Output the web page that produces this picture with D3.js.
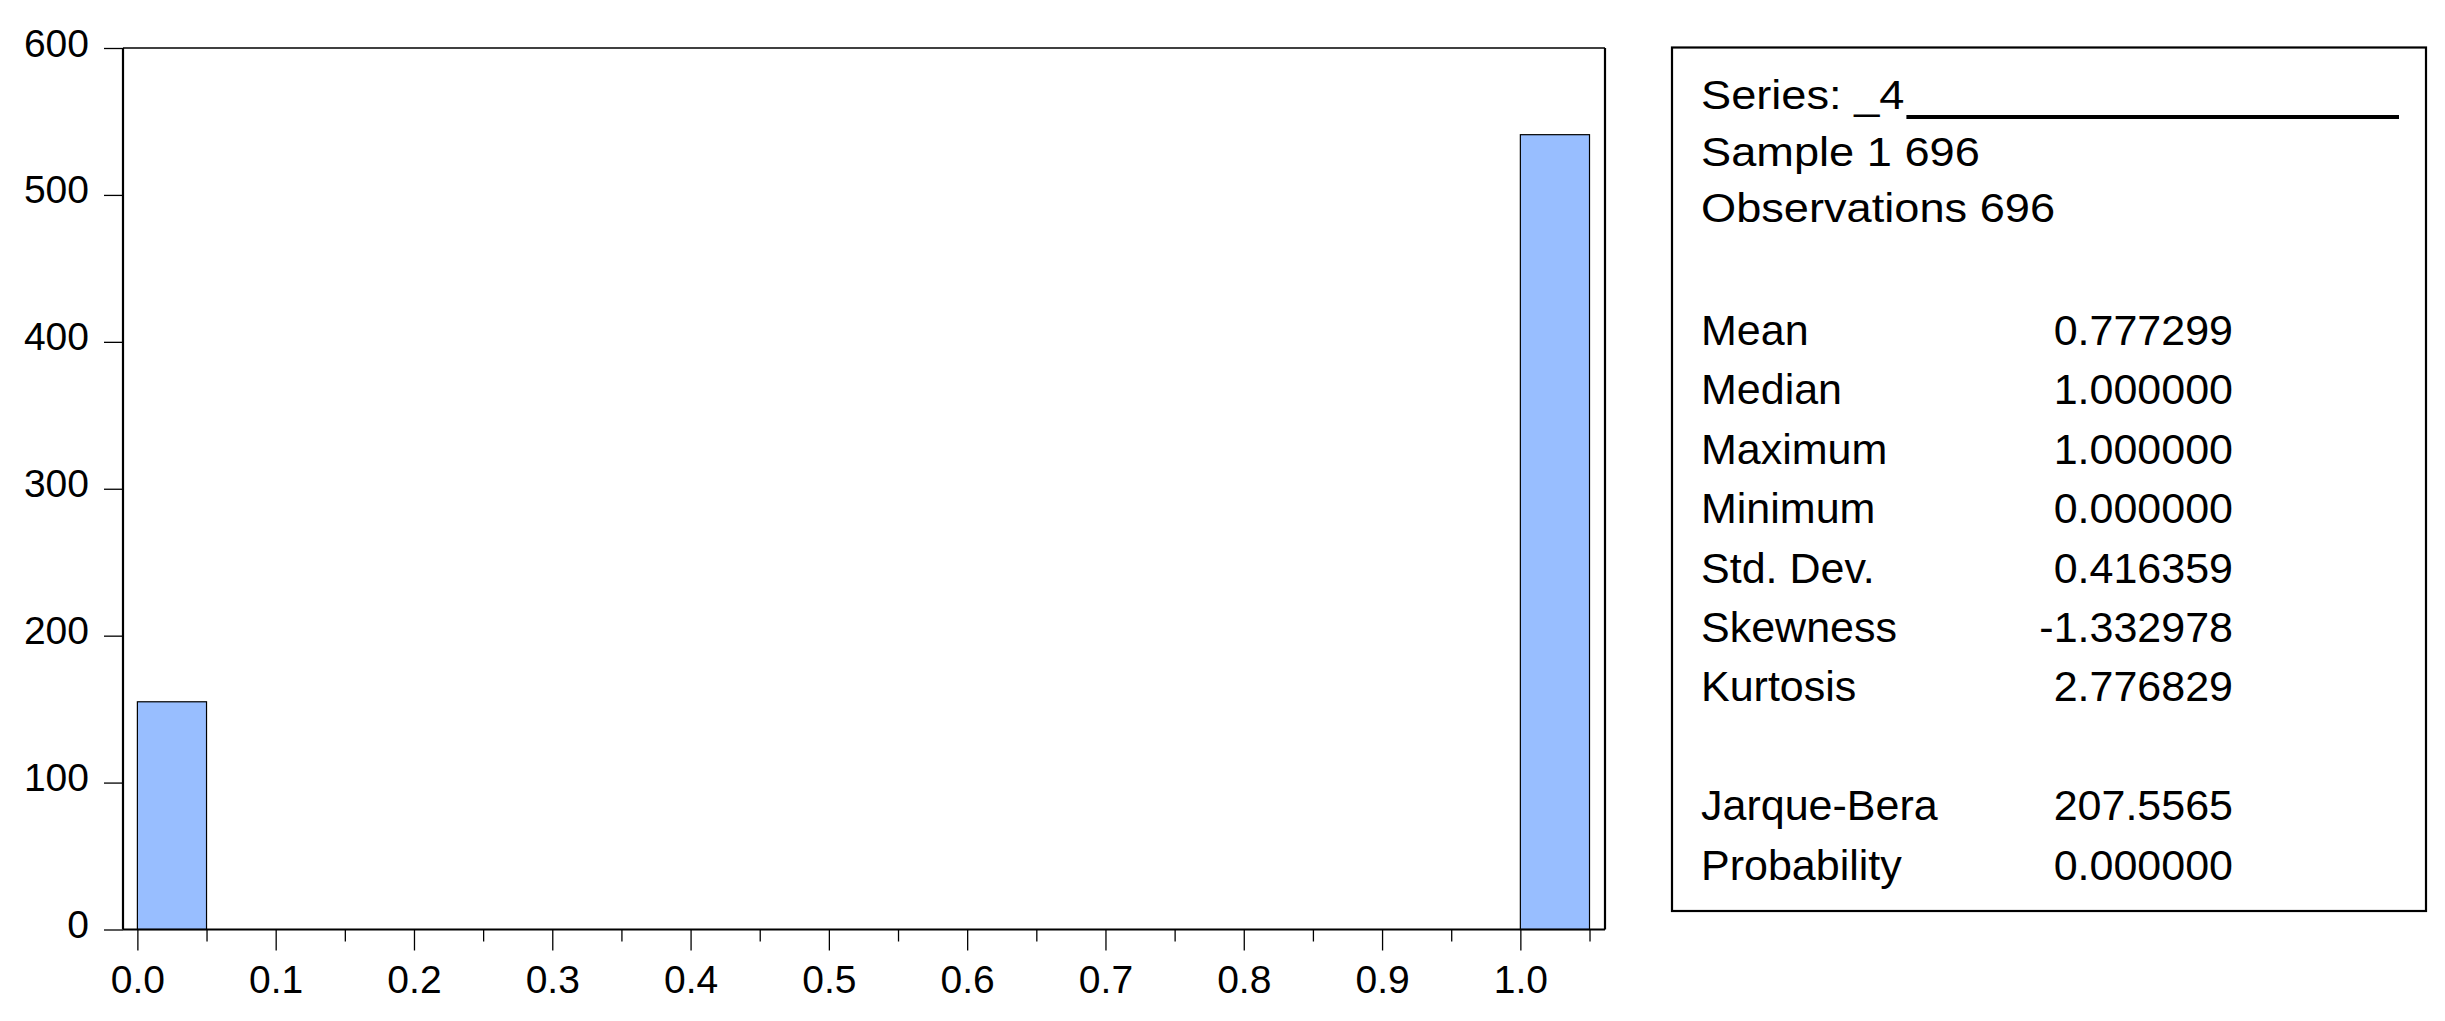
<!DOCTYPE html>
<html>
<head>
<meta charset="utf-8">
<script src="https://cdn.jsdelivr.net/npm/d3@7"></script>
<style>
  html, body { margin: 0; padding: 0; background: #fff; }
  svg { display: block; font-family: "Liberation Sans", Arial, sans-serif; }
</style>
</head>
<body>
<div id="chart"></div>
<script>
// histogram bins (lower / upper edge) and counts
const binLo = [0.0, 1.0]
const binHi = [0.05, 1.05]
const counts = [155, 541]

const yTicks = [0, 100, 200, 300, 400, 500, 600]
const xTicks = [0.0, 0.1, 0.2, 0.3, 0.4, 0.5, 0.6, 0.7, 0.8, 0.9, 1.0]
const xMinorTicks = [0.05, 0.15, 0.25, 0.35, 0.45, 0.55, 0.65, 0.75, 0.85, 0.95, 1.05]

// stats box
const headerLines = ['Sample 1 696', 'Observations 696']
const seriesName = 'Series: _4'
const statLabels = ['Mean', 'Median', 'Maximum', 'Minimum', 'Std. Dev.', 'Skewness', 'Kurtosis', '', 'Jarque-Bera', 'Probability']
const statValues = ['0.777299', '1.000000', '1.000000', '0.000000', '0.416359', '-1.332978', '2.776829', '', '207.5565', '0.000000']

const W = 2445, H = 1021
const plot = { left: 123, right: 1605, top: 48, bottom: 929.5 }

const svg = d3.select('#chart').append('svg')
    .attr('width', W)
    .attr('height', H)

const x = d3.scaleLinear()
    .domain([-0.0104, 1.0612])
    .range([plot.left, plot.right])

const y = d3.scaleLinear()
    .domain([0, 600])
    .range([plot.bottom, plot.top])

// bars
svg.selectAll('.bar')
    .data(counts)
    .enter()
    .append('rect')
    .attr('class', 'bar')
    .attr('x', (d, i) => x(binLo[i]))
    .attr('width', (d, i) => x(binHi[i]) - x(binLo[i]))
    .attr('y', d => y(d))
    .attr('height', d => y(0) - y(d))
    .style('fill', '#98BEFF')
    .style('stroke', '#000')
    .style('stroke-width', 1.2)

// y axis
const yAxis = svg.append('g')
    .attr('transform', `translate(${plot.left},0)`)
    .call(d3.axisLeft(y).tickValues(yTicks).tickSize(19).tickSizeOuter(0).tickPadding(15))
yAxis.select('.domain').remove()
yAxis.selectAll('line').attr('stroke', '#000').attr('stroke-width', 1.3)
yAxis.selectAll('text')
    .attr('dy', '8px')
    .style('font-size', '39px')
    .style('fill', '#000')
    .style('font-family', '"Liberation Sans", Arial, sans-serif')

// x axis, major + minor ticks
const xAxis = svg.append('g')
    .attr('transform', `translate(0,${plot.bottom})`)
    .call(d3.axisBottom(x).tickValues(xTicks).tickSize(21).tickSizeOuter(0).tickFormat(d3.format('.1f')))
xAxis.select('.domain').remove()
xAxis.selectAll('line').attr('stroke', '#000').attr('stroke-width', 1.3)
xAxis.selectAll('text')
    .attr('y', 63.5)
    .attr('dy', 0)
    .style('font-size', '39px')
    .style('fill', '#000')
    .style('font-family', '"Liberation Sans", Arial, sans-serif')

const xMinor = svg.append('g')
    .attr('transform', `translate(0,${plot.bottom})`)
    .call(d3.axisBottom(x).tickValues(xMinorTicks).tickSize(12).tickSizeOuter(0).tickFormat(''))
xMinor.select('.domain').remove()
xMinor.selectAll('line').attr('stroke', '#000').attr('stroke-width', 1.3)

// plot frame
svg.append('line')
    .attr('x1', plot.left).attr('x2', plot.right)
    .attr('y1', plot.top).attr('y2', plot.top)
    .style('stroke', '#000').style('stroke-width', 1.5)
svg.append('line')
    .attr('x1', plot.left).attr('x2', plot.right)
    .attr('y1', plot.bottom).attr('y2', plot.bottom)
    .style('stroke', '#000').style('stroke-width', 2.2)
svg.append('line')
    .attr('x1', plot.left).attr('x2', plot.left)
    .attr('y1', plot.top).attr('y2', plot.bottom)
    .style('stroke', '#000').style('stroke-width', 2.2)
svg.append('line')
    .attr('x1', plot.right).attr('x2', plot.right)
    .attr('y1', plot.top).attr('y2', plot.bottom)
    .style('stroke', '#000').style('stroke-width', 2.2)

// stats box
const box = { left: 1672, right: 2426, top: 47.5, bottom: 911 }
svg.append('rect')
    .attr('x', box.left)
    .attr('y', box.top)
    .attr('width', box.right - box.left)
    .attr('height', box.bottom - box.top)
    .style('fill', 'none')
    .style('stroke', '#000')
    .style('stroke-width', 2.2)

const textX = 1701
const valueRight = 2233
const headerScale = 1.13

const seriesText = svg.append('text')
    .attr('transform', `translate(${textX},109) scale(${headerScale},1)`)
    .style('font-size', '40px')
    .text(seriesName)
const seriesEnd = textX + seriesText.node().getComputedTextLength() * headerScale

svg.append('line')
    .attr('x1', seriesEnd + 2).attr('x2', 2399)
    .attr('y1', 117).attr('y2', 117)
    .style('stroke', '#000').style('stroke-width', 4)

svg.selectAll('.header')
    .data(headerLines)
    .enter()
    .append('text')
    .attr('class', 'header')
    .attr('transform', (d, i) => `translate(${textX},${165.5 + i * 56.5}) scale(${headerScale},1)`)
    .style('font-size', '40px')
    .text(d => d)

svg.selectAll('.statLabel')
    .data(statLabels)
    .enter()
    .append('text')
    .attr('class', 'statLabel')
    .attr('x', textX)
    .attr('y', (d, i) => 345 + i * 59.4)
    .style('font-size', '43px')
    .text(d => d)

svg.selectAll('.statValue')
    .data(statValues)
    .enter()
    .append('text')
    .attr('class', 'statValue')
    .attr('x', valueRight)
    .attr('y', (d, i) => 345 + i * 59.4)
    .attr('text-anchor', 'end')
    .style('font-size', '43px')
    .text(d => d)
</script>
</body>
</html>
